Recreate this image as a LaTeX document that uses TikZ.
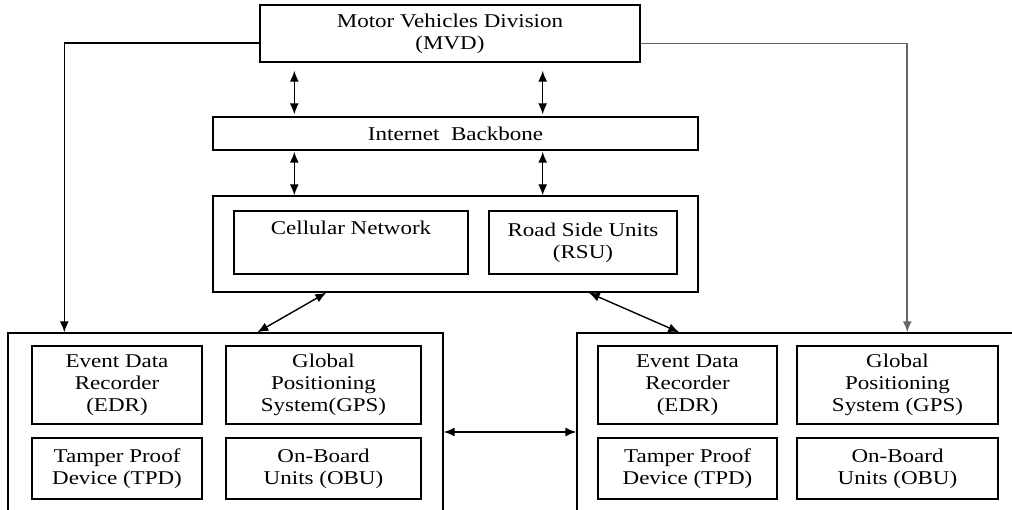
\documentclass[tikz,border=0pt]{standalone}
\usepackage{fontspec}
\setmainfont{Liberation Serif}[FakeStretch=1.18]
\usetikzlibrary{calc,positioning,arrows.meta}
\begin{document}
\begin{tikzpicture}[x=1pt,y=-1pt,>={Latex[length=11pt,width=9pt]},line width=1.4pt,
  every node/.style={draw,align=center,font=\fontsize{19.5}{22}\selectfont},
  link/.style={line width=1.4pt}]
\useasboundingbox (0,0) rectangle (1012,510);
\clip (0,0) rectangle (1012,510);

% authority and backbone
\node[minimum width=380,minimum height=57] (mvd) at (450,33.5) {Motor Vehicles Division\\(MVD)};
\node[minimum width=485,minimum height=33] (ib) at (455.5,133.5) {Internet\ \ Backbone};

% access networks
\node[minimum width=485,minimum height=96] (mid) at (455.5,244) {};
\node[minimum width=234,minimum height=63,text depth=30pt] (cell) at (351,242.5) {Cellular Network};
\node[minimum width=188,minimum height=63] (rsu) at (583,242.5) {Road Side Units\\(RSU)};

% vehicles
\node[minimum width=435,minimum height=198] (lcar) at (225.5,432) {};
\node[minimum width=170,minimum height=78] (ledr) at (117,385) {Event Data\\Recorder\\(EDR)};
\node[minimum width=195,minimum height=78] (lgps) at (323.5,385) {Global\\Positioning\\System(GPS)};
\node[minimum width=170,minimum height=61] (ltpd) at (117,468.5) {Tamper Proof\\Device (TPD)};
\node[minimum width=195,minimum height=61] (lobu) at (323.5,468.5) {On-Board\\Units (OBU)};

\node[minimum width=453,minimum height=198] (rcar) at (803.5,432) {};
\node[minimum width=179,minimum height=78] (redr) at (687.5,385) {Event Data\\Recorder\\(EDR)};
\node[minimum width=201,minimum height=78] (rgps) at (897.5,385) {Global\\Positioning\\System (GPS)};
\node[minimum width=179,minimum height=61] (rtpd) at (687.5,468.5) {Tamper Proof\\Device (TPD)};
\node[minimum width=201,minimum height=61] (robu) at (897.5,468.5) {On-Board\\Units (OBU)};

% links
\draw[link,<->,shorten <=8pt,shorten >=2pt] ([xshift=35]mvd.south west) -- ([xshift=35]mvd.south west |- ib.north);
\draw[link,<->,shorten <=8pt,shorten >=2pt] ([xshift=-98]mvd.south east) -- ([xshift=-98]mvd.south east |- ib.north);
\draw[link,<->,shorten <=1pt] ([xshift=82]ib.south west) -- ([xshift=82]ib.south west |- mid.north);
\draw[link,<->,shorten <=1pt] ([xshift=-156]ib.south east) -- ([xshift=-156]ib.south east |- mid.north);
\draw[link,<->] ([xshift=114]mid.south west) -- ([xshift=250]lcar.north west);
\draw[link,<->] ([xshift=-110]mid.south east) -- ([xshift=103]rcar.north west);
\draw[link,<->] (lcar.east) -- (rcar.west);
\draw[link,->] ([yshift=-9.5]mvd.west) -| ([xshift=57]lcar.north west);
\draw[link,->,black!60,line width=1.8pt] ([yshift=-10]mvd.east) -| ([xshift=331]rcar.north west);
\end{tikzpicture}
\end{document}
